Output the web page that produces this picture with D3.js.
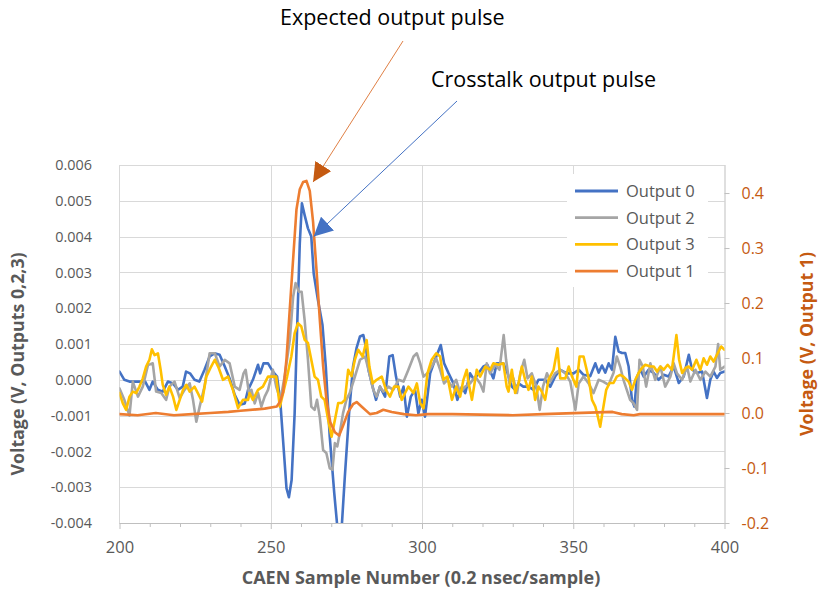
<!DOCTYPE html>
<html>
<head>
<meta charset="utf-8">
<script src="https://cdn.jsdelivr.net/npm/d3@7"></script>
<style>
  body { margin: 0; background: #fff; }
  text { font-family: "Open Sans", sans-serif; }
</style>
</head>
<body>
<svg id="chart" width="827" height="590"></svg>
<script>
// tick values
const xTicks = [200, 250, 300, 350, 400];
const xMinorTicks = [210, 220, 230, 240, 260, 270, 280, 290, 310, 320, 330, 340, 360, 370, 380, 390];
const leftTicks = [-0.004, -0.003, -0.002, -0.001, 0, 0.001, 0.002, 0.003, 0.004, 0.005, 0.006];
const rightTicks = [-0.2, -0.1, 0, 0.1, 0.2, 0.3, 0.4];

// [sample, volts]
const output0 = [[200,0.00023],[201.6,0],[203.3,-0.00005],[206,-0.00005],[208.5,-0.00005],[209.9,-0.00028],[211,-0.00005],[212.7,-0.00028],[214.3,-0.00033],[216,-0.00005],[217.7,-0.0001],[219.3,-0.00028],[220.9,-0.00019],[222,0.00023],[223.3,0.00018],[224.8,0],[226.4,-0.00005],[228.1,0.00028],[229.8,0.00065],[231.4,0.00074],[233.1,0.0007],[234.8,0.00037],[236.4,0.00004],[238.1,-0.00042],[239.7,-0.0007],[241.4,-0.00066],[242.5,-0.00028],[244.1,0],[245.8,0.00042],[246.5,0.00018],[247.6,0.00046],[249.1,0.00046],[250.7,0.00023],[252.1,0.00009],[253.2,-0.00066],[254.3,-0.00196],[255.2,-0.00303],[256,-0.00328],[256.9,-0.0028],[257.9,-0.00093],[258.8,0.00167],[259.6,0.00381],[260.3,0.00493],[261.2,0.0046],[262.3,0.00423],[263.4,0.004],[264.2,0.00297],[265.6,0.00223],[267.1,0.00153],[268.2,0.00037],[269.5,-0.00159],[271,-0.00317],[272,-0.0041],[273.4,-0.0042],[274.5,-0.00269],[275.9,-0.00093],[277.2,0.00037],[278.4,0.0009],[279.5,0.00121],[280.6,0.00125],[281.5,0.0009],[282.3,0.00028],[283.4,-0.0001],[284.8,-0.00056],[286.1,-0.00019],[287.8,-0.00047],[289.2,0.00065],[290.3,0.00069],[291.4,0.00009],[292.8,-0.00047],[293.9,-0.00019],[295,-0.00103],[296.3,-0.00047],[297.7,-0.00028],[298.8,-0.00094],[299.9,-0.00056],[301,-0.00103],[302.7,0.00018],[304.3,0.00056],[306.2,0.00097],[307.3,0.00046],[308.8,0.00018],[310.4,-0.0001],[311.7,-0.00056],[313.2,-0.00019],[314.3,-0.00037],[315.9,0.00018],[317.2,0],[318.7,0.00019],[320.3,0.00037],[321.6,0.00042],[323.6,0.00004],[324.7,0.00046],[326.9,0.00046],[328.3,0.00018],[329.7,-0.00019],[330.8,-0.00028],[331.9,-0.0001],[333.5,-0.00019],[335.2,-0.00019],[336.9,-0.00028],[338.5,0],[340.7,0],[342.4,-0.00019],[344,0.00009],[345.7,0.00028],[347.9,0.00018],[350.1,0.00018],[351.8,0.00028],[353.4,0.00014],[355.6,0.0001],[357.3,0.00046],[358.4,0.0002],[359.5,0.0004],[360.6,0.0002],[361.7,0.00046],[362.8,0.00028],[363.9,0.0012],[365,0.00079],[366.1,0.00075],[367.2,0.00075],[368.3,0.00037],[369.4,-0.00056],[370.2,-0.00075],[371.1,0.00009],[372.2,0.00028],[373.3,0.00009],[374.9,0.00028],[376.6,0.00019],[378.2,0],[379.9,0.00014],[381.5,0.00009],[383.2,0.00037],[384.9,-0.00009],[386.5,0.00009],[388.2,0.0007],[389.3,0.00028],[390.9,0.00019],[392.6,0.00023],[394.2,-0.00051],[395.3,0],[396.4,0.00023],[397.5,0.00005],[398.6,0.00019],[400,0.00023]];

const output2 = [[200,-0.00024],[201.6,-0.00056],[203.3,-0.001],[204.4,-0.00005],[206.1,-0.00047],[207.7,-0.00019],[209.4,0.00041],[211,0.00046],[212.1,-0.00033],[213.8,-0.00037],[215.4,-0.00056],[216.5,-0.00019],[218.2,-0.00005],[219.9,-0.00051],[221.5,-0.00028],[223.2,-0.0001],[224.3,-0.00056],[225.4,-0.00117],[226.5,-0.00075],[228.1,-0.00019],[229.8,0.00074],[231.5,0.00074],[233.1,0.00037],[234.8,0.00056],[236.4,0.00046],[238.1,-0.00019],[239.7,-0.00028],[241,0.00018],[241.7,0.00028],[242.8,-0.00037],[243.6,-0.00028],[244.7,-0.00066],[245.8,-0.00037],[246.9,-0.00075],[248,-0.00047],[249.1,-0.00028],[250.7,0.00028],[251.8,-0.00019],[253.2,-0.00056],[254.6,0.00009],[256.3,0.00112],[257.4,0.00232],[258.2,0.0027],[259.3,0.00246],[260.2,0.00246],[261.2,0.00167],[262.3,0.00056],[263.4,-0.00075],[264.5,-0.00084],[265.3,-0.00056],[266.2,-0.00103],[267.3,-0.00196],[268.4,-0.00205],[269.5,-0.00247],[270.4,-0.00251],[271.2,-0.00177],[272,-0.00186],[272.8,-0.00149],[273.9,-0.00093],[275,-0.00056],[276.1,-0.00037],[277.5,0],[279.5,0.00056],[281.2,0.00065],[282.3,0.00028],[283.9,-0.00028],[285,-0.00047],[286.1,-0.00019],[287.2,-0.00033],[288.9,-0.00019],[290.5,-0.00028],[292.2,0],[293.9,-0.00005],[295.5,0.00028],[297.2,0.00065],[298.3,0.00074],[299.4,0.00046],[300.5,0.00009],[301.8,0.00018],[303.2,0.00037],[304.7,0.0006],[306,0.00028],[307.3,-0.0001],[308.4,0],[309.9,-0.00019],[311.3,0],[312.6,-0.00037],[314.3,-0.00019],[315.9,-0.0001],[317.6,0.00009],[319.2,-0.0001],[320.3,-0.00033],[321.4,0.00046],[322.5,0.00018],[324.2,0.00042],[325.6,0.00028],[327,0.00125],[327.8,0.00056],[328.9,-0.0001],[330.2,0.00004],[331.4,-0.00037],[332.5,0.00018],[333.8,0.00056],[334.9,0.00004],[336.3,0.00018],[337.8,-0.00019],[338.9,-0.00084],[340,-0.00019],[341.3,0.00018],[342.4,-0.00005],[344,0.00018],[345.7,0.00028],[347.4,0.00018],[349,-0.00005],[350.7,-0.00084],[351.8,-0.0001],[353.4,0.00009],[355.1,-0.0001],[356.7,-0.00037],[358.4,0],[359.9,-0.00005],[361.7,-0.00014],[363.3,0.00019],[364.4,0.00065],[365.5,0.00037],[366.6,0],[367.7,-0.00028],[368.8,-0.00056],[369.9,-0.00065],[371.1,-0.00084],[371.9,0.00056],[373,0.00037],[374.1,-0.00019],[375.5,0.00046],[377.1,0],[378.8,0.00037],[380.4,-0.00019],[382.1,0.00009],[383.2,0.00046],[384.3,0.00018],[386,0],[387.6,0.00037],[388.7,-0.00005],[390.4,0.00028],[392,0],[393.7,0.00023],[395.3,0.00009],[397,0.00037],[397.9,0.001],[398.6,0.00028],[400,0.00037]];

const output3 = [[200,-0.00037],[201.1,-0.00066],[202.2,-0.00084],[203.3,-0.00047],[204.4,-0.00033],[205.5,-0.00037],[206.6,-0.00019],[207.7,0.00004],[208.8,0.00037],[209.9,0.00056],[210.7,0.00085],[211.6,0.00069],[212.7,0.00074],[213.6,0.00028],[214.3,-0.00014],[215.4,-0.00042],[216.5,-0.00019],[217.7,-0.00047],[218.8,-0.00084],[219.9,-0.00056],[221,-0.00028],[222.1,-0.00014],[223.2,-0.00033],[224.8,-0.00019],[225.9,-0.00037],[227.3,-0.00061],[228.7,0.00009],[230.3,0.00037],[231.5,0.00056],[232.8,0.00033],[234.2,0],[235.9,0.00009],[237.5,-0.00028],[239.2,-0.00079],[240.8,-0.00056],[242.5,-0.00056],[243,-0.00037],[244.1,-0.00056],[245.8,-0.00028],[247.4,-0.00019],[249.1,0.00009],[250.7,0.00009],[251.8,0.00009],[253,-0.00075],[254.1,-0.00037],[255.4,0.00009],[256.8,0.00065],[257.9,0.0013],[259,0.00158],[260.1,0.00149],[261.2,0.00112],[262.3,0.00103],[263.4,0.00056],[264.5,0.00009],[265.6,0],[266.7,-0.00047],[267.8,-0.00056],[269,-0.00112],[270.1,-0.00159],[271.2,-0.00112],[272.3,-0.00065],[273.4,-0.00065],[274.5,-0.00056],[275.6,0.00028],[276.7,0.0001],[277.8,0.00056],[278.9,0.00084],[280.4,0.00065],[281.7,0.00111],[282.6,0.00037],[283.7,-0.0001],[285,0],[286.7,0.00009],[288.1,-0.00028],[289.4,-0.00047],[290.8,-0.00019],[292.2,-0.00019],[293.3,-0.00056],[294.4,-0.00037],[295.5,-0.00019],[297.2,-0.00037],[298.3,-0.0001],[299.4,-0.00065],[300.5,-0.0008],[301.8,0.00018],[303.2,0.00056],[304.7,0.00074],[306,0.00065],[307.1,0],[308.4,0.00009],[309.9,-0.00056],[311.3,-0.00019],[312.6,-0.00047],[313.7,0],[314.8,0.00028],[315.4,-0.00009],[316.5,-0.00056],[318.1,0.00028],[319.2,0.00009],[320.9,0.00037],[322.5,0.00028],[323.6,0.00046],[325.3,0.00042],[326.9,0.00046],[328,-0.00019],[328.6,-0.00033],[329.7,0.00028],[330.8,-0.00037],[331.9,-0.0001],[333,0.00037],[334.1,0],[335.2,-0.00028],[336.3,0.00009],[337.4,-0.00056],[338.5,-0.00019],[339.6,-0.00033],[340.7,-0.00056],[341.8,0],[343.5,0.00028],[344.8,0.00088],[345.7,0.00004],[347.4,0.00004],[348.5,0.00037],[349.6,0.00009],[351,-0.00019],[352.1,0.00065],[353.4,0.00065],[355.1,0.00004],[356.2,-0.00056],[357.3,-0.00075],[358,-0.00098],[358.9,-0.00131],[359.8,-0.00084],[360.9,-0.00028],[362,-0.00009],[363.3,-0.00009],[364.4,0.00009],[365.5,0.00014],[366.6,0.00009],[368.3,-0.00005],[369.4,-0.00028],[370.5,0],[371.6,0.00019],[372.7,0.00033],[373.8,0.00042],[375.5,0.00037],[376.6,0.00037],[377.7,0.00023],[378.8,0.00037],[379.9,0.00028],[381.2,0.00042],[382.6,0.00028],[383.2,0.00065],[384.1,0.00125],[385,0.00056],[386,0.00019],[387.1,0.00033],[388.2,0.00037],[389.3,0.00028],[390.7,0.00056],[392,0.00028],[393.1,0.0006],[394.2,0.00042],[395.3,0.00065],[396.4,0.00051],[397.5,0.0007],[398.9,0.00093],[400,0.00084]];

// secondary axis series
const output1 = [[200,-0.002],[206,-0.004],[212,0],[218,-0.004],[224,-0.002],[230,0],[236,0.002],[240,0.004],[248,0.008],[252,0.012],[253,0.02],[254.1,0.038],[255.2,0.098],[256.3,0.19],[257.4,0.28],[258.5,0.37],[259.6,0.407],[260.7,0.42],[261.8,0.422],[262.9,0.404],[264,0.347],[265.1,0.262],[266.2,0.171],[267.3,0.086],[268.4,0.025],[269.7,-0.017],[271.2,-0.035],[272.6,-0.041],[273.9,-0.023],[275.6,0.002],[277.2,0.016],[278.4,0.02],[280,0.012],[282.8,-0.002],[285,0],[287.2,0.006],[290,0.002],[294,-0.002],[298,-0.004],[302,-0.002],[310,-0.002],[330,-0.004],[340,-0.002],[363,0.002],[366,-0.002],[370,-0.004],[372,-0.002],[400,-0.002]];

const colors = { out0: "#4472C4", out2: "#A5A5A5", out3: "#FFC000", out1: "#ED7D31" };
const legendItems = [["Output 0", colors.out0], ["Output 2", colors.out2], ["Output 3", colors.out3], ["Output 1", colors.out1]];

const svg = d3.select("#chart");
const plot = { left: 119.5, right: 724.5, top: 165, bottom: 523 };

const x = d3.scaleLinear().domain([200, 400]).range([plot.left, plot.right]);
const yL = d3.scaleLinear().domain([-0.004, 0.006]).range([plot.bottom, plot.top]);
const yR = d3.scaleLinear().domain([-0.2, 0.451]).range([plot.bottom, plot.top]);

// gridlines
svg.append("g")
  .selectAll("line")
  .data(leftTicks)
  .join("line")
  .attr("x1", plot.left).attr("x2", plot.right)
  .attr("y1", d => Math.round(yL(d)) + 0.5).attr("y2", d => Math.round(yL(d)) + 0.5)
  .attr("stroke", "#D9D9D9");

svg.append("g")
  .selectAll("line")
  .data(xTicks.slice(1, -1))
  .join("line")
  .attr("x1", d => Math.round(x(d)) + 0.5).attr("x2", d => Math.round(x(d)) + 0.5)
  .attr("y1", plot.top).attr("y2", plot.bottom)
  .attr("stroke", "#D9D9D9");

// left axis: line + labels placed by hand off the scale
svg.append("line")
  .attr("x1", plot.left).attr("x2", plot.left)
  .attr("y1", plot.top).attr("y2", plot.bottom)
  .attr("stroke", "#D9D9D9");

svg.append("g")
  .selectAll("text")
  .data(leftTicks)
  .join("text")
  .attr("x", 92)
  .attr("y", d => yL(d))
  .attr("dy", "0.36em")
  .attr("text-anchor", "end")
  .attr("font-size", 14.4)
  .attr("fill", "#595959")
  .text(d => d.toFixed(3));

// right axis
const rightAxis = svg.append("g")
  .attr("transform", `translate(${plot.right},0)`)
  .call(d3.axisRight(yR).tickValues(rightTicks).tickSize(5).tickPadding(12).tickFormat(d => d.toFixed(1)));
rightAxis.select(".domain").attr("stroke", "#BFBFBF").attr("d", `M0.5,${plot.top}V${plot.bottom}`);
rightAxis.selectAll("line").attr("stroke", "#BFBFBF");
rightAxis.selectAll("text").attr("font-size", 16).attr("fill", "#C55A11").style("font-family", "Open Sans");

// bottom axis
const bottomAxis = svg.append("g")
  .attr("transform", `translate(0,${plot.bottom})`)
  .call(d3.axisBottom(x).tickValues(xTicks).tickSize(6).tickPadding(12).tickFormat(d3.format("d")));
bottomAxis.select(".domain").attr("stroke", "#BFBFBF").attr("d", `M${plot.left},0.5H${plot.right}`);
bottomAxis.selectAll("line").attr("stroke", "#BFBFBF");
bottomAxis.selectAll("text").attr("font-size", 16.5).attr("fill", "#595959").style("font-family", "Open Sans");

const minorAxis = svg.append("g")
  .attr("transform", `translate(0,${plot.bottom})`)
  .call(d3.axisBottom(x).tickValues(xMinorTicks).tickSize(4).tickFormat(""));
minorAxis.select(".domain").remove();
minorAxis.selectAll("line").attr("stroke", "#BFBFBF");

// axis titles
svg.append("text")
  .attr("x", 421).attr("y", 584)
  .attr("text-anchor", "middle")
  .attr("font-size", 18).attr("font-weight", "bold").attr("fill", "#595959")
  .text("CAEN Sample Number (0.2 nsec/sample)");

svg.append("text")
  .attr("transform", "translate(24,364) rotate(-90)")
  .attr("text-anchor", "middle")
  .attr("font-size", 17.8).attr("font-weight", "bold").attr("fill", "#595959")
  .text("Voltage (V, Outputs 0,2,3)");

svg.append("text")
  .attr("transform", "translate(813,344) rotate(-90)")
  .attr("text-anchor", "middle")
  .attr("font-size", 17.8).attr("font-weight", "bold").attr("fill", "#C55A11")
  .text("Voltage (V, Output 1)");

// series
svg.append("clipPath").attr("id", "plot-clip")
  .append("rect")
  .attr("x", plot.left).attr("y", plot.top)
  .attr("width", plot.right - plot.left).attr("height", plot.bottom - plot.top);

const series = svg.append("g").attr("clip-path", "url(#plot-clip)");

const lineL = d3.line().x(d => x(d[0])).y(d => yL(d[1]));
const lineR = d3.line().x(d => x(d[0])).y(d => yR(d[1]));

[[output0, colors.out0, lineL], [output2, colors.out2, lineL], [output3, colors.out3, lineL], [output1, colors.out1, lineR]]
  .forEach(([data, color, gen]) => {
    series.append("path")
      .datum(data)
      .attr("d", gen)
      .attr("fill", "none")
      .attr("stroke", color)
      .attr("stroke-width", 2.6)
      .attr("stroke-linejoin", "round")
      .attr("stroke-linecap", "round");
  });

// legend
const legend = svg.append("g").attr("transform", "translate(567,174)");
legend.append("rect").attr("width", 141).attr("height", 113).attr("fill", "#fff");
legend.selectAll("g.item")
  .data(legendItems)
  .join("g")
  .attr("class", "item")
  .attr("transform", (d, i) => `translate(0,${17 + i * 26.7})`)
  .each(function (d) {
    const g = d3.select(this);
    g.append("line").attr("x1", 8).attr("x2", 51).attr("stroke", d[1]).attr("stroke-width", 2.8);
    g.append("text").attr("x", 59).attr("dy", "0.36em")
      .attr("font-size", 16.5).attr("fill", "#595959").text(d[0]);
  });

// annotations
const defs = svg.append("defs");
[["head-orange", "#C55A11"], ["head-blue", "#4472C4"]].forEach(([id, c]) => {
  defs.append("marker")
    .attr("id", id)
    .attr("viewBox", "0 0 10 10")
    .attr("refX", 10).attr("refY", 5)
    .attr("markerUnits", "userSpaceOnUse")
    .attr("markerWidth", 19).attr("markerHeight", 19)
    .attr("orient", "auto")
    .append("path").attr("d", "M0,0L10,5L0,10Z").attr("fill", c);
});

const expectedTip = [x(264), yR(0.42)];
svg.append("line")
  .attr("x1", 403).attr("y1", 41)
  .attr("x2", expectedTip[0]).attr("y2", expectedTip[1])
  .attr("stroke", "#E08045").attr("stroke-width", 1)
  .attr("marker-end", "url(#head-orange)");

const crossTip = [x(264.2), yL(0.0040)];
svg.append("line")
  .attr("x1", 457).attr("y1", 101)
  .attr("x2", crossTip[0]).attr("y2", crossTip[1])
  .attr("stroke", "#4472C4").attr("stroke-width", 1)
  .attr("marker-end", "url(#head-blue)");

svg.append("text")
  .attr("x", 280).attr("y", 25)
  .attr("font-size", 21.5).attr("fill", "#000")
  .text("Expected output pulse");

svg.append("text")
  .attr("x", 431).attr("y", 87)
  .attr("font-size", 21.5).attr("fill", "#000")
  .text("Crosstalk output pulse");
</script>
</body>
</html>
